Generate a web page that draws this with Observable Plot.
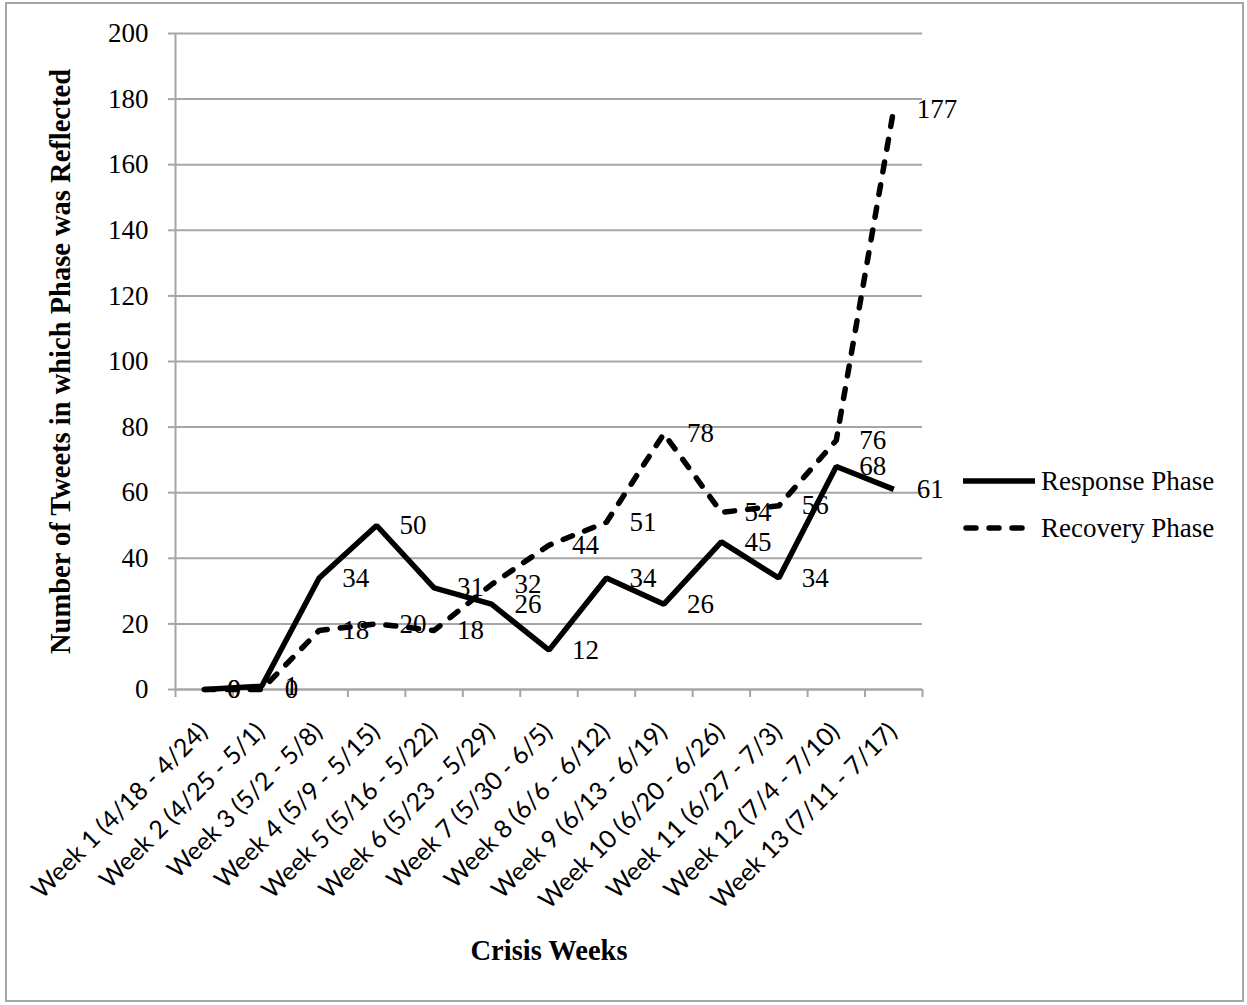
<!DOCTYPE html>
<html>
<head>
<meta charset="utf-8">
<script src="https://cdn.jsdelivr.net/npm/d3@7"></script>
<script src="https://cdn.jsdelivr.net/npm/@observablehq/plot@0.6"></script>
<style>
  html, body { margin: 0; padding: 0; background: #fff; }
  #wrap { position: relative; width: 1247px; height: 1005px; overflow: hidden; }
  #frame { position: absolute; left: 5px; top: 2px; width: 1239px; height: 1000px; border: 2px solid #a6a6a6; box-sizing: border-box; pointer-events: none; }
  #legend { position: absolute; left: 963px; top: 0; font-family: "Liberation Serif", serif; font-size: 27px; color: #000; }
  .item { position: absolute; left: 0; display: flex; align-items: center; white-space: nowrap; height: 30px; }
  .item svg { display: block; margin-right: 6px; }
</style>
</head>
<body>
<div id="wrap">
  <div id="chart"></div>
  <div id="legend"></div>
  <div id="frame"></div>
</div>
<script>
const weeks = [
  "Week 1 (4/18 - 4/24)", "Week 2 (4/25 - 5/1)", "Week 3 (5/2 - 5/8)", "Week 4 (5/9 - 5/15)",
  "Week 5 (5/16 - 5/22)", "Week 6 (5/23 - 5/29)", "Week 7 (5/30 - 6/5)", "Week 8 (6/6 - 6/12)",
  "Week 9 (6/13 - 6/19)", "Week 10 (6/20 - 6/26)", "Week 11 (6/27 - 7/3)", "Week 12 (7/4 - 7/10)",
  "Week 13 (7/11 - 7/17)"
];
const response = [0, 1, 34, 50, 31, 26, 12, 34, 26, 45, 34, 68, 61];
const recovery = [0, 0, 18, 20, 18, 32, 44, 51, 78, 54, 56, 76, 177];
const seriesNames = ["Response Phase", "Recovery Phase"];
const yTicks = [0, 20, 40, 60, 80, 100, 120, 140, 160, 180, 200];
const yTitle = "Number of Tweets in which Phase was Reflected";
const xTitle = "Crisis Weeks";

const positions = weeks.map((w, i) => i + 1);
const boundaries = [0.5, ...positions.map(p => p + 0.5)];
const respRows = weeks.map((w, i) => ({pos: i + 1, week: w, value: response[i]}));
const recRows = weeks.map((w, i) => ({pos: i + 1, week: w, value: recovery[i]}));

const gridColor = "#a6a6a6";
const serif = "Liberation Serif";
const lineW = 5.5;

const chart = Plot.plot({
  width: 1247,
  height: 1005,
  marginLeft: 175,
  marginRight: 325,
  marginTop: 33,
  marginBottom: 316,
  x: {domain: [0.5, 13.5]},
  y: {domain: [0, 200]},
  style: {fontFamily: serif, fontSize: "27px", color: "#000", background: "transparent", overflow: "visible"},
  marks: [
    Plot.gridY(yTicks, {stroke: gridColor, strokeOpacity: 1, strokeWidth: 2}),
    Plot.ruleX([0.5], {stroke: gridColor, strokeWidth: 2}),
    Plot.ruleY([0], {stroke: gridColor, strokeWidth: 2}),
    Plot.axisY(yTicks, {tickSize: 7, tickPadding: 20, stroke: gridColor, strokeWidth: 2, fill: "#000", label: null, fontSize: 27, fontFamily: serif}),
    Plot.axisX(boundaries, {tickSize: 8, stroke: gridColor, strokeWidth: 2, tickFormat: () => "", label: null}),
    Plot.axisX(positions, {tickSize: 0, tickFormat: p => weeks[p - 1], tickRotate: -45, tickPadding: 38, dx: -1, fill: "#000", label: null, fontSize: 25, fontFamily: "Lato"}),
    Plot.line(respRows, {x: "pos", y: "value", stroke: "#000", strokeWidth: lineW, strokeLinejoin: "miter", strokeLinecap: "butt"}),
    Plot.line(recRows, {x: "pos", y: "value", stroke: "#000", strokeWidth: lineW, strokeDasharray: "10,13", strokeLinecap: "round", strokeLinejoin: "round"}),
    Plot.text(respRows, {x: "pos", y: "value", text: d => String(d.value), dx: 23, textAnchor: "start", fill: "#000", fontSize: 27, fontFamily: serif}),
    Plot.text(recRows, {x: "pos", y: "value", text: d => String(d.value), dx: 23, textAnchor: "start", fill: "#000", fontSize: 27, fontFamily: serif}),
    Plot.text([yTitle], {frameAnchor: "left", dx: -115, rotate: -90, textAnchor: "middle", lineAnchor: "middle", fontWeight: "bold", fontSize: 28.5, fontFamily: serif, fill: "#000"}),
    Plot.text([xTitle], {frameAnchor: "bottom", dy: 270, textAnchor: "middle", fontWeight: "bold", fontSize: 28.5, fontFamily: serif, fill: "#000"})
  ]
});
document.getElementById("chart").appendChild(chart);

// Legend (HTML, to the right of the plot)
const legend = document.getElementById("legend");
const legendTops = [466, 513];
seriesNames.forEach((name, i) => {
  const item = document.createElement("div");
  item.className = "item";
  item.style.top = legendTops[i] + "px";
  const dash = i === 0 ? "" : 'stroke-dasharray="10,13" stroke-linecap="round"';
  item.innerHTML = `<svg width="72" height="12"><line x1="${i === 0 ? 0 : 3}" y1="6" x2="${i === 0 ? 72 : 70}" y2="6" stroke="#000" stroke-width="${lineW}" ${dash}/></svg><span>${name}</span>`;
  legend.appendChild(item);
});
</script>
</body>
</html>
